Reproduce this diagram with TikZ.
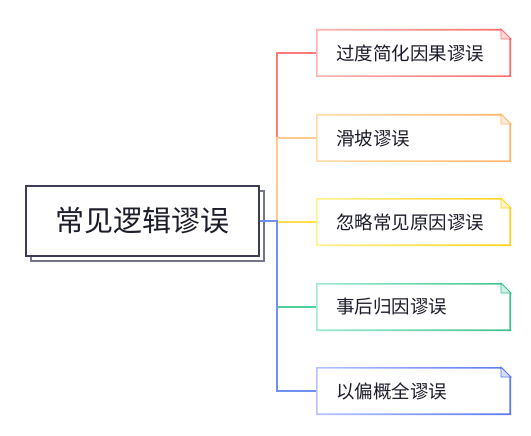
\documentclass[tikz,border=0pt]{standalone}
\usepackage{fontspec}
\newfontfamily\cjk{Noto Sans CJK SC}
\usetikzlibrary{shadows}
\definecolor{redlight}{HTML}{FFB3B3}\definecolor{reddark}{HTML}{FF6B6B}\definecolor{redline}{HTML}{FF7A7A}
\definecolor{orangelight}{HTML}{FFDCA8}\definecolor{orangedark}{HTML}{FFB46A}\definecolor{orangeline}{HTML}{FFC990}
\definecolor{yellowlight}{HTML}{FFF28A}\definecolor{yellowdark}{HTML}{FFD21E}\definecolor{yellowline}{HTML}{FFE050}
\definecolor{greenlight}{HTML}{9EEBCF}\definecolor{greendark}{HTML}{3CC48C}\definecolor{greenline}{HTML}{4ED19A}
\definecolor{bluelight}{HTML}{B5C4FF}\definecolor{bluedark}{HTML}{5A78F0}\definecolor{blueline}{HTML}{7090F0}
\definecolor{ink}{HTML}{1C1C2A}
\definecolor{rootline}{HTML}{3C3C52}
\definecolor{shadowline}{HTML}{75758A}
\tikzset{
  rootbox/.style={draw=rootline, line width=1.2pt, fill=white, minimum width=233pt, minimum height=70pt,
    inner sep=0pt, font=\cjk\fontsize{29}{32}\selectfont, text=ink,
    copy shadow={shadow xshift=5pt, shadow yshift=-5pt, draw=shadowline, fill=white, line width=1.4pt}},
  childtext/.style={inner sep=0pt, anchor=west, font=\cjk\fontsize{18.5}{21}\selectfont, text=ink},
  conn/.style={line width=1.1pt}
}
\begin{document}
\begin{tikzpicture}[x=1pt,y=-1pt]
\useasboundingbox (0,0) rectangle (531,436);
\node[rootbox] (root) at (142.5,221) {常见逻辑谬误};
\coordinate (tx) at (277,0);
\coordinate (e1) at (316,53);
\coordinate (e2) at (316,138);
\coordinate (e3) at (316,222);
\coordinate (e4) at (316,307);
\coordinate (e5) at (316,391);
\draw[conn,redline] (root.east) -- (root.east -| tx) |- (e1);
\draw[conn,orangeline] (root.east) -- (root.east -| tx) |- (e2);
\draw[conn,yellowline] (root.east) -- (root.east -| tx) |- (e3);
\draw[conn,greenline] (root.east) -- (root.east -| tx) |- (e4);
\draw[conn,blueline] (root.east) -- (root.east -| tx) |- (e5);
\foreach \i/\cy/\txt/\lc/\dc in {1/53/过度简化因果谬误/redlight/reddark,2/138/滑坡谬误/orangelight/orangedark,3/222/忽略常见原因谬误/yellowlight/yellowdark,4/307/事后归因谬误/greenlight/greendark,5/391/以偏概全谬误/bluelight/bluedark}{
  \fill[white] (316,\cy-24) -- (501,\cy-24) -- (511,\cy-14) -- (511,\cy+24) -- (316,\cy+24) -- cycle;
  \shade[even odd rule, left color=\lc, right color=\dc]
    (316,\cy-24) -- (501,\cy-24) -- (511,\cy-14) -- (511,\cy+24) -- (316,\cy+24) -- cycle
    (317.6,\cy-22.4) -- (500.3,\cy-22.4) -- (509.4,\cy-13.3) -- (509.4,\cy+22.4) -- (317.6,\cy+22.4) -- cycle;
  \filldraw[fill=\dc!25, draw=\dc, line width=0.8pt] (501,\cy-24) -- (501,\cy-14) -- (511,\cy-14) -- cycle;
  \node[childtext] (c\i) at (336,\cy) {\txt};
}
\end{tikzpicture}
\end{document}
